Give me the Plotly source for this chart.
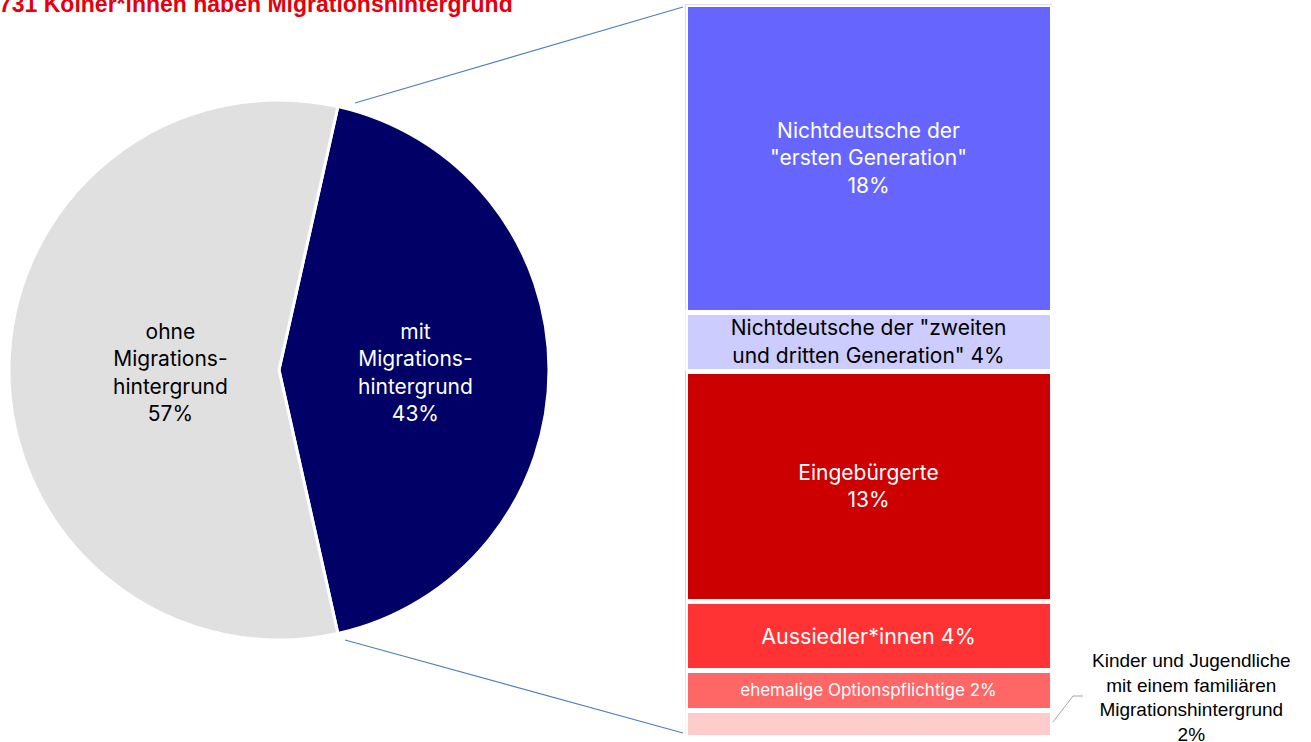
import plotly.graph_objects as go

W, H = 1311, 742

# ---- data ----
pie_labels = ["mit Migrationshintergrund", "ohne Migrationshintergrund"]
pie_values = [43, 57]
pie_text = ["mit<br>Migrations-<br>hintergrund<br>43%", "ohne<br>Migrations-<br>hintergrund<br>57%"]

bar_labels = [
    "Nichtdeutsche der erste Generation",
    "Nichtdeutsche der zweiten und dritten Generation",
    "Eingebürgerte",
    "Aussiedler*innen",
    "ehemalige Optionspflichtige",
    "Kinder und Jugendliche mit einem familiären Migrationshintergrund",
]
bar_values = [18.05, 3.5, 13.5, 4.0, 2.35, 1.6]
bar_text = [
    "Nichtdeutsche der<br>\"ersten Generation\"<br>18%",
    "Nichtdeutsche der \"zweiten<br>und dritten Generation\" 4%",
    "Eingebürgerte<br>13%",
    "Aussiedler*innen 4%",
    "ehemalige Optionspflichtige 2%",
    "",
]
bar_colors = ["#6666FF", "#CCCCFF", "#CC0000", "#FF3333", "#FF6666", "#FFCCCC"]
bar_text_colors = ["white", "black", "white", "white", "white", "black"]
bar_text_sizes = [21, 21, 21, 21.5, 17, 15]

title_text = "731 Kölner*innen haben Migrationshintergrund"
side_note = "Kinder und Jugendliche<br>mit einem familiären<br>Migrationshintergrund<br>2%"


def px(x):
    return x / W


def py(y):
    return (H - y) / H


fig = go.Figure()

fig.add_trace(go.Pie(
    labels=pie_labels, values=pie_values,
    textinfo="none",
    sort=False, direction="clockwise", rotation=90 - 43 * 3.6 / 2,
    marker=dict(colors=["#000066", "#E0E0E0"], line=dict(color="white", width=3)),
    domain=dict(x=[px(9), px(549)], y=[py(640), py(100)]),
    showlegend=False, hoverinfo="label+percent",
))

for lab, v, t, c, tc, ts in zip(bar_labels, bar_values, bar_text, bar_colors, bar_text_colors, bar_text_sizes):
    fig.add_trace(go.Bar(
        x=[0], y=[v], name=lab, text=[t], textposition="inside",
        insidetextanchor="middle", constraintext="none",
        textfont=dict(family="Inter", size=ts, color=tc),
        marker=dict(color=c, line=dict(color="white", width=5)),
        showlegend=False, xaxis="x", yaxis="y",
    ))

total = sum(bar_values)
pie_annots = [
    dict(text=pie_text[0], xref="paper", yref="paper", x=px(415), y=py(372),
         xanchor="center", yanchor="middle", showarrow=False,
         font=dict(family="Inter", size=21, color="white")),
    dict(text=pie_text[1], xref="paper", yref="paper", x=px(170), y=py(372),
         xanchor="center", yanchor="middle", showarrow=False,
         font=dict(family="Inter", size=21, color="black")),
]

fig.update_layout(
    width=W, height=H, margin=dict(l=0, r=0, t=0, b=0),
    paper_bgcolor="white", plot_bgcolor="white",
    barmode="stack", bargap=0,
    xaxis=dict(domain=[px(685.5), px(1052.5)], range=[-0.5, 0.5], visible=False),
    yaxis=dict(domain=[py(737.5), py(4.5)], range=[total, 0], visible=False),
    shapes=[
        dict(type="line", xref="paper", yref="paper", x0=px(355), y0=py(103), x1=px(683), y1=py(7),
             line=dict(color="#4F81BD", width=1.2)),
        dict(type="line", xref="paper", yref="paper", x0=px(345), y0=py(640), x1=px(683), y1=py(733),
             line=dict(color="#4F81BD", width=1.2)),
        dict(type="path", xref="paper", yref="paper",
             path=f"M {px(1053)} {py(722)} L {px(1073)} {py(696)} L {px(1083)} {py(696)}",
             line=dict(color="#A6A6A6", width=1)),
    ],
    annotations=pie_annots + [
        dict(text=f"<b>{title_text}</b>", xref="paper", yref="paper", x=px(-3), y=py(4),
             xanchor="left", yanchor="middle", showarrow=False,
             font=dict(family="Liberation Sans", size=23, color="#E3000F")),
        dict(text=side_note, xref="paper", yref="paper", x=px(1191), y=py(697),
             xanchor="center", yanchor="middle", showarrow=False,
             font=dict(family="Liberation Sans", size=19, color="black")),
    ],
)

fig.write_html(
    "out.html",
    config={"displayModeBar": False},
    post_script="document.body.style.margin='0';document.body.style.overflow='hidden';",
)
